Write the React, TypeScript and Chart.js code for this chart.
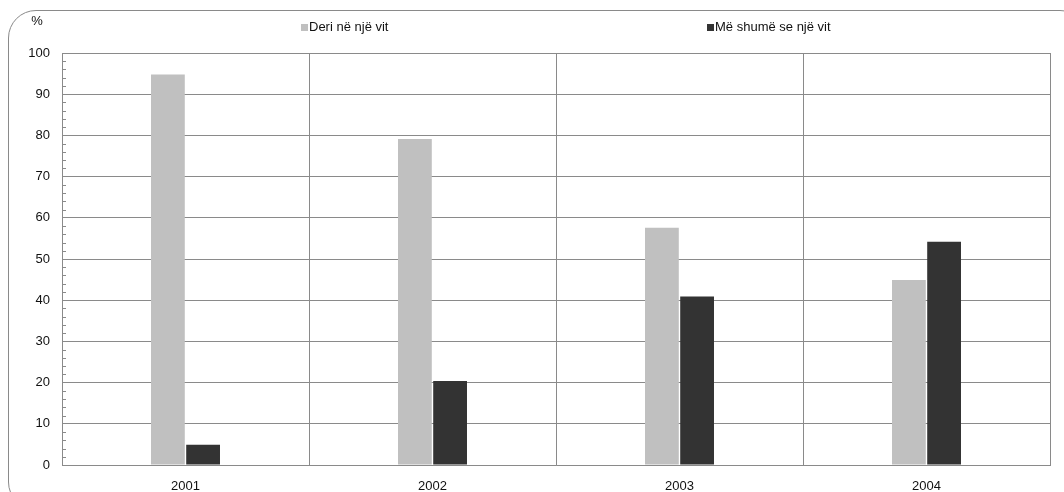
import React, { useEffect, useRef } from "react";
import { Chart, registerables } from "chart.js";

Chart.register(...registerables);

const categories = ["2001", "2002", "2003", "2004"];
const seriesNames = ["Deri në një vit", "Më shumë se një vit"];
const upToOneYear = [94.8, 79.1, 57.6, 44.9];
const moreThanOneYear = [4.9, 20.4, 40.9, 54.2];
const yTickValues = [0, 10, 20, 30, 40, 50, 60, 70, 80, 90, 100];
const yUnit = "%";

const FONT = "'Liberation Sans', Arial, sans-serif";
const GRID = "#8a8a8a";

const minorTicksPlugin = {
  id: "minorTicks",
  afterDraw(chart: any) {
    const y = chart.scales.y;
    const ctx = chart.ctx;
    const left = chart.chartArea.left;
    ctx.save();
    ctx.strokeStyle = GRID;
    ctx.lineWidth = 1;
    for (let v = y.min; v <= y.max; v += 2) {
      if (v % 10 === 0) continue;
      const py = Math.round(y.getPixelForValue(v)) + 0.5;
      ctx.beginPath();
      ctx.moveTo(left, py);
      ctx.lineTo(left + 4, py);
      ctx.stroke();
    }
    ctx.restore();
  },
};

const customLegendPlugin = {
  id: "customLegend",
  afterDraw(chart: any) {
    const ctx = chart.ctx;
    const ds = chart.data.datasets;
    const xs = [301, 707];
    const yc = 27;
    ctx.save();
    ctx.font = `13px ${FONT}`;
    ctx.textBaseline = "middle";
    ctx.textAlign = "left";
    ds.forEach((d: any, i: number) => {
      ctx.fillStyle = d.backgroundColor;
      ctx.fillRect(xs[i], yc - 3, 7, 7);
      ctx.fillStyle = "#111";
      ctx.fillText(d.label, xs[i] + 8, yc);
    });
    ctx.textAlign = "center";
    ctx.fillText(yUnit, 37, 21);
    ctx.restore();
  },
};

export default function App() {
  const ref = useRef<HTMLCanvasElement>(null);
  useEffect(() => {
    if (!ref.current) return;
    const chart = new Chart(ref.current, {
      type: "bar",
      data: {
        labels: categories,
        datasets: [
          {
            label: seriesNames[0],
            data: upToOneYear,
            backgroundColor: "#c0c0c0",
            categoryPercentage: 0.285,
            barPercentage: 0.96,
          },
          {
            label: seriesNames[1],
            data: moreThanOneYear,
            backgroundColor: "#333333",
            categoryPercentage: 0.285,
            barPercentage: 0.96,
          },
        ],
      },
      options: {
        responsive: false,
        animation: false,
        layout: { padding: { top: 53, right: 14, bottom: 0, left: 0 } },
        plugins: {
          legend: { display: false },
          tooltip: { enabled: false },
          title: { display: false },
        },
        scales: {
          x: {
            grid: { color: GRID, drawTicks: false, offset: true, lineWidth: 1 },
            border: { color: GRID },
            ticks: { color: "#111", font: { family: FONT, size: 13 }, padding: 14 },
            afterFit: (s: any) => {
              s.height = 27;
            },
          },
          y: {
            min: 0,
            max: 100,
            afterBuildTicks: (s: any) => {
              const t: any[] = [];
              for (let v = 0; v <= 100; v += 2) t.push({ value: v });
              s.ticks = t;
            },
            ticks: {
              autoSkip: false,
              color: "#111",
              font: { family: FONT, size: 13 },
              padding: 12,
              callback: (v: any) => (yTickValues.includes(Number(v)) ? String(v) : ""),
            },
            grid: {
              drawTicks: false,
              color: (c: any) =>
                c.tick && c.tick.value % 10 === 0 ? GRID : "rgba(0,0,0,0)",
            },
            border: { color: GRID },
            afterFit: (s: any) => {
              s.width = 62;
            },
          },
        },
      },
      plugins: [minorTicksPlugin, customLegendPlugin],
    });
    return () => chart.destroy();
  }, []);

  return (
    <div style={{ position: "absolute", left: 0, top: 0, width: 1064, height: 492, overflow: "hidden", background: "#fff" }}>
      <div
        style={{
          position: "absolute",
          left: 8,
          top: 10,
          width: 1080,
          height: 500,
          border: "1px solid #8a8a8a",
          borderRadius: 28,
          boxSizing: "border-box",
        }}
      />
      <canvas ref={ref} width={1064} height={492} style={{ position: "absolute", left: 0, top: 0 }} />
    </div>
  );
}
